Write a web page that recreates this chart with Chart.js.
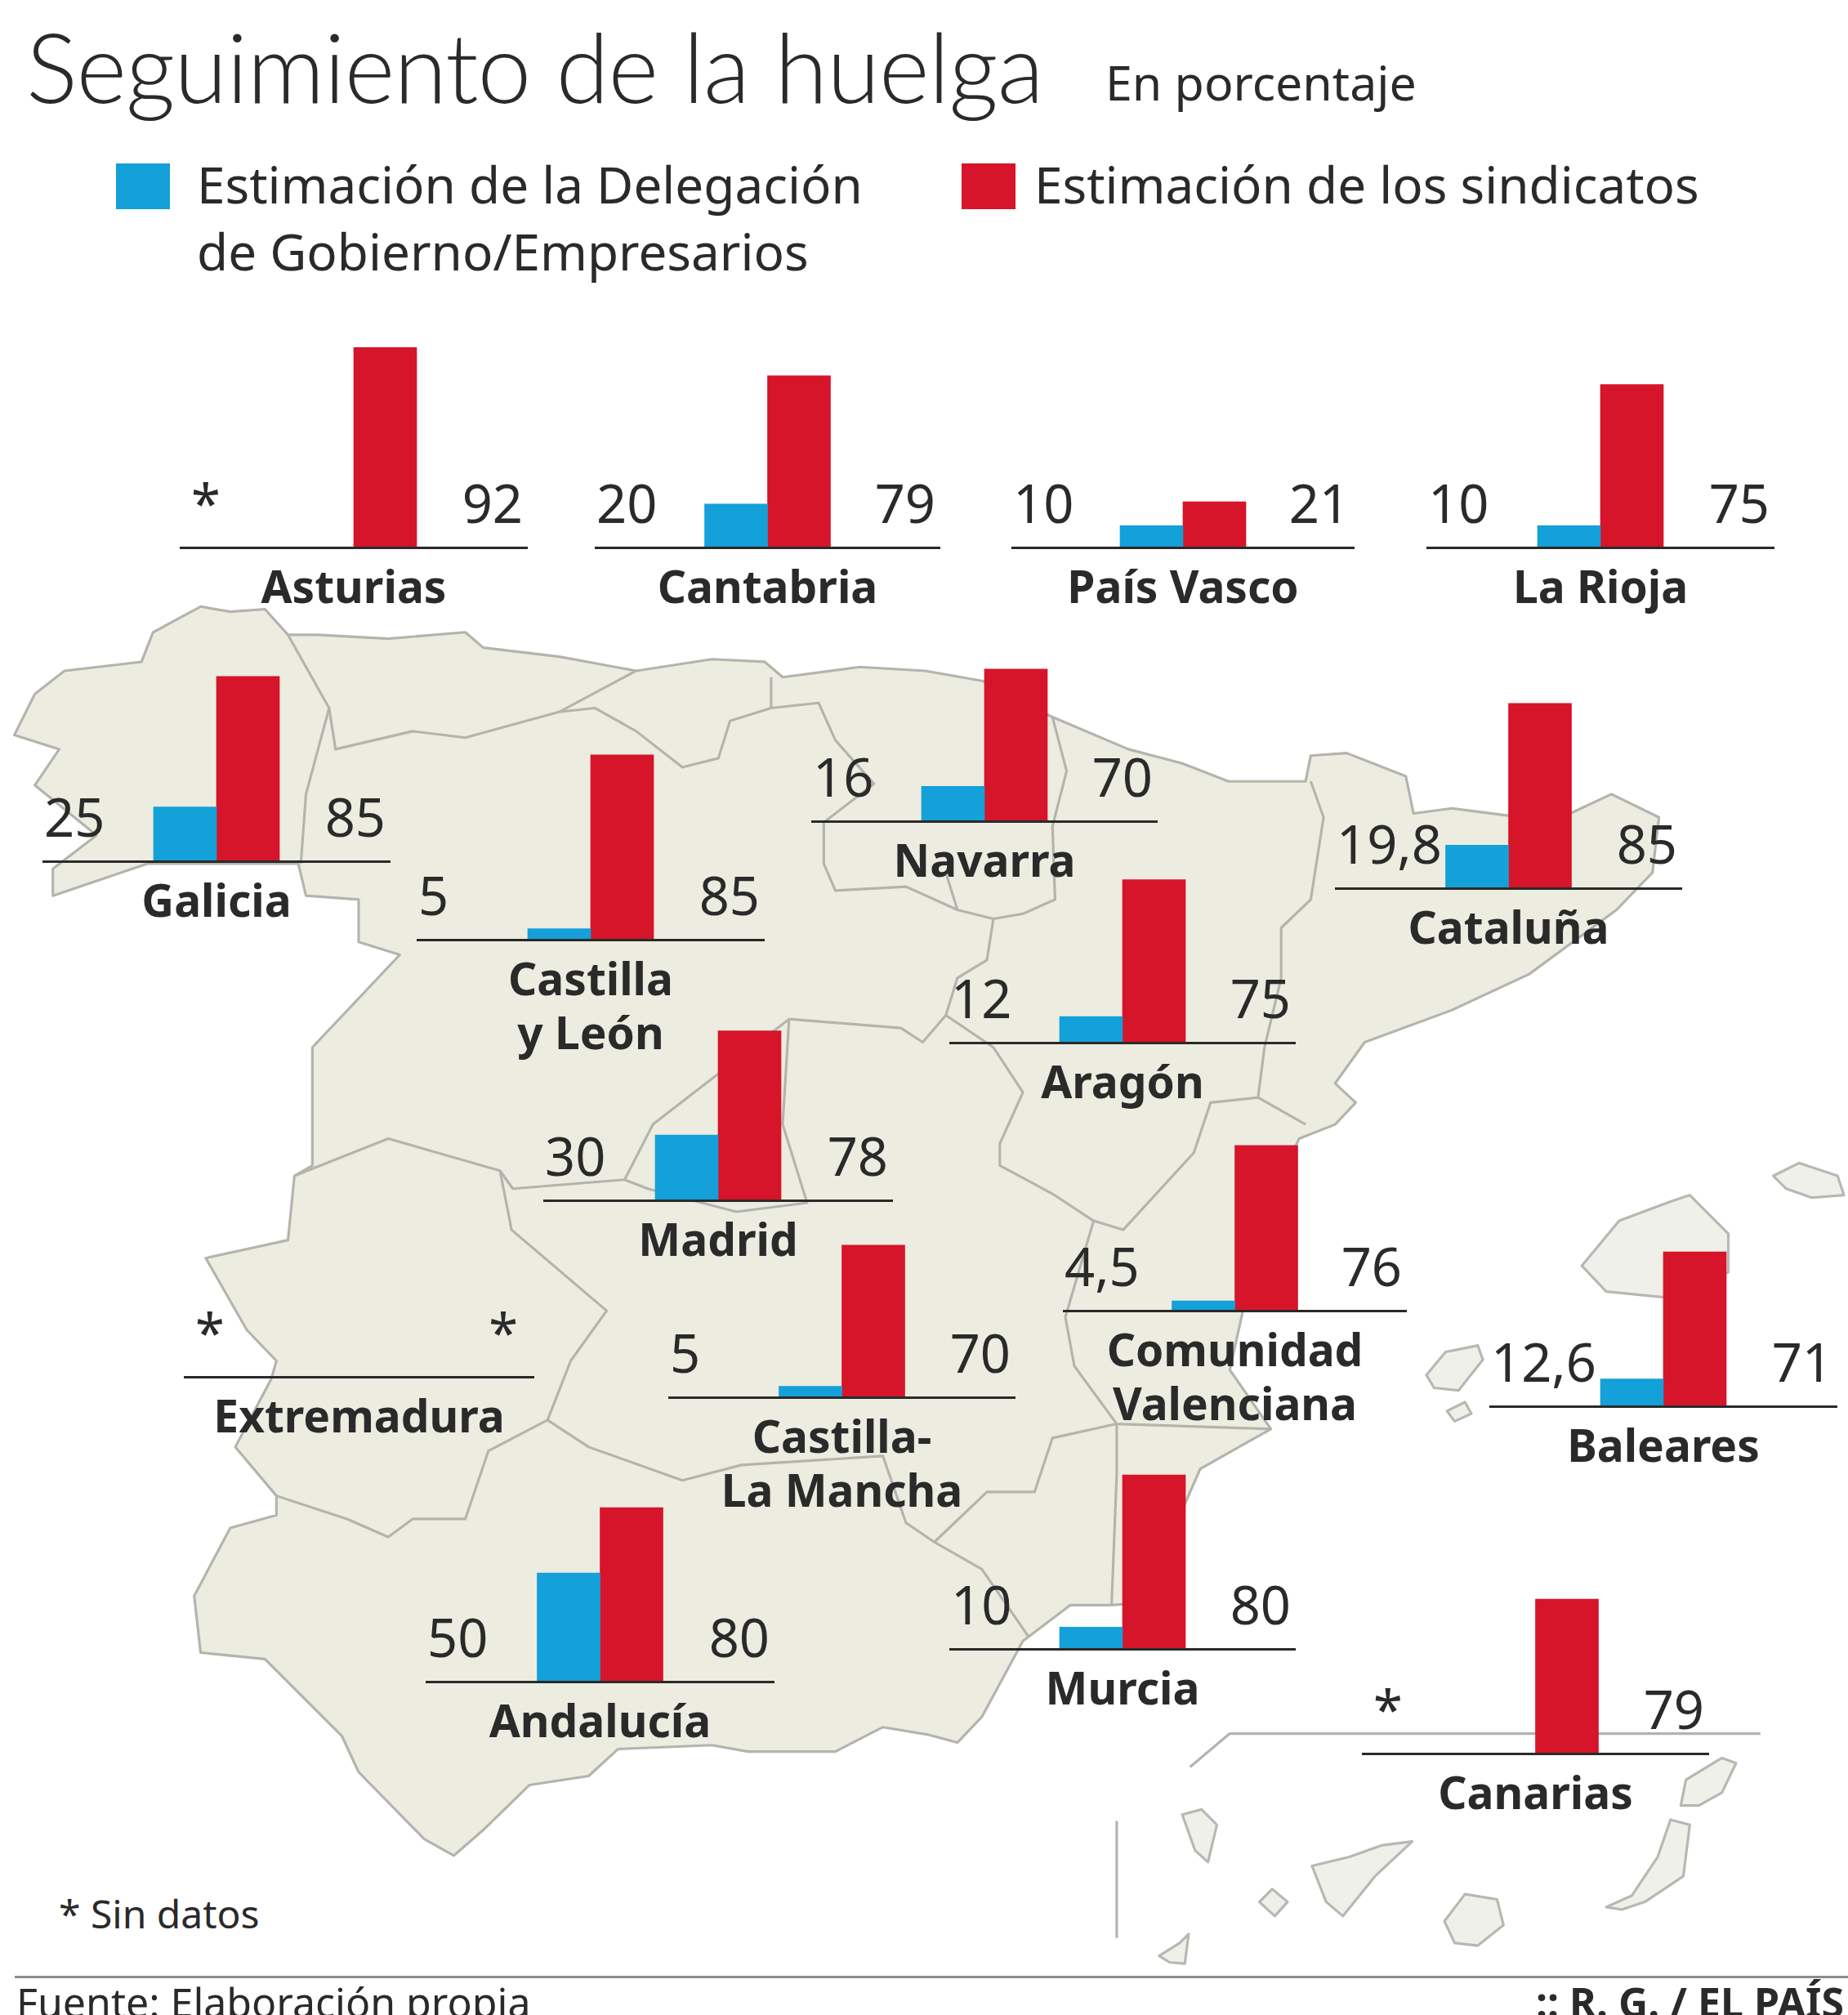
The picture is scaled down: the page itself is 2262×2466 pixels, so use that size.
<!DOCTYPE html>
<html lang="es">
<head>
<meta charset="utf-8">
<title>Seguimiento de la huelga</title>
<script src="https://cdn.jsdelivr.net/npm/chart.js@4"></script>
<style>
  html, body { margin: 0; background: #fff; }
  #page { position: relative; width: 2262px; height: 2466px; overflow: hidden; color: #2a2a2a; font-family: "Noto Sans", sans-serif; }
  #page div { position: absolute; white-space: nowrap; }
  #map { position: absolute; left: 0; top: 0; }
  #page canvas { position: absolute; }
  .land { fill: #ecece0; stroke: #b4b4ae; stroke-width: 2; stroke-linejoin: round; }
  .border { fill: none; stroke: #b4b4ae; stroke-width: 2; stroke-linejoin: round; }
  .isle { fill: #f0f0ea; stroke: #b8b8b2; stroke-width: 2; stroke-linejoin: round; }
  .legend { font-size: 62px; line-height: 82px; }
  .swatch { width: 66px; height: 56px; }
</style>
</head>
<body>
<div id="page">
  <svg id="map" width="2262" height="2466" viewBox="0 0 1438 1568">
    <path class="land" d="M11,572 L27,540 L50,522 L110,515 L119,492 L156,472 L179,476 L206,474 L224,494 L247,494 L302,497 L362,492 L376,504 L435,511 L495,522 L554,513 L595,515 L609,527 L669,519 L720,522 L765,530 L819,558 L878,583 L920,594 L956,608 L1016,608 L1020,588 L1048,586 L1094,604 L1100,633 L1130,629 L1176,635 L1222,633 L1254,618 L1291,636 L1286,679 L1258,708 L1190,758 L1130,786 L1062,811 L1039,843 L1055,858 L1039,875 L1011,886 L990,930 L975,985 L957,1066 L989,1112 L934,1143 L920,1175 L918,1245 L865,1249 L833,1249 L796,1277 L764,1336 L745,1356 L723,1350 L687,1344 L650,1363 L582,1363 L554,1358 L481,1361 L458,1382 L412,1389 L376,1424 L353,1444 L330,1431 L279,1379 L266,1351 L206,1291 L156,1286 L151,1242 L179,1189 L215,1179 L215,1164 L183,1126 L211,1073 L215,1059 L192,1035 L160,979 L224,965 L229,915 L243,907 L243,815 L311,743 L279,733 L279,700 L238,697 L232,672 L115,672 L41,697 L41,676 L75,650 L27,611 L46,583 Z"/>
    <path class="border" d="M224,494 L256,551 L238,618 L234,672"/>
    <path class="border" d="M256,551 L261,583 L321,569 L362,574 L435,554 L495,522"/>
    <path class="border" d="M435,554 L463,551 L495,569 L531,597 L559,590 L568,561 L600,551 L600,527"/>
    <path class="border" d="M600,551 L637,547 L650,576 L680,610 L641,640 L641,672 L650,693 L705,690 L745,708 L773,715 L796,711 L821,700 L819,643 L830,600 L819,558"/>
    <path class="border" d="M736,679 L745,708"/>
    <path class="border" d="M773,715 L768,747 L745,761 L736,790 L773,815 L796,850 L778,890 L778,907 L819,929 L851,950 L829,1025 L836,1063 L869,1108 L989,1112"/>
    <path class="border" d="M1020,608 L1030,636 L1020,700 L997,722 L997,761 L984,815 L979,854 L942,858 L929,897 L874,957 L851,950"/>
    <path class="border" d="M979,854 L1016,875"/>
    <path class="border" d="M736,790 L718,811 L701,800 L614,793 L508,875 L486,918 L504,925 L573,943 L628,936 L609,875 L614,793"/>
    <path class="border" d="M229,915 L302,886 L389,911 L399,925 L486,918"/>
    <path class="border" d="M389,911 L398,957 L472,1020 L444,1059 L426,1105 L458,1126 L531,1152 L577,1140 L687,1133 L705,1185 L727,1200 L764,1221 L800,1273"/>
    <path class="border" d="M426,1105 L380,1129 L362,1182 L321,1182 L302,1196 L270,1182 L215,1164"/>
    <path class="border" d="M869,1108 L819,1119 L805,1161 L768,1161 L727,1200"/>
    <path class="border" d="M869,1108 L869,1147 L865,1249"/>
    <path class="isle" d="M1231,985 L1260,950 L1300,935 L1315,930 L1345,960 L1345,990 L1300,1010 L1250,1005 Z"/>
    <path class="isle" d="M1380,915 L1400,905 L1430,915 L1435,930 L1410,932 L1390,925 Z"/>
    <path class="isle" d="M1110,1070 L1125,1052 L1150,1047 L1154,1058 L1135,1082 L1116,1080 Z"/>
    <path class="isle" d="M1126,1098 L1140,1091 L1145,1100 L1132,1106 Z"/>
    <path class="isle" d="M920,1412 L935,1408 L947,1420 L940,1449 L930,1440 Z"/>
    <path class="isle" d="M1021,1452 L1050,1445 L1075,1436 L1099,1433 L1070,1460 L1045,1491 L1032,1480 Z"/>
    <path class="isle" d="M980,1480 L990,1470 L1002,1480 L992,1491 Z"/>
    <path class="isle" d="M902,1522 L918,1512 L925,1505 L922,1528 L910,1527 Z"/>
    <path class="isle" d="M1124,1495 L1140,1474 L1165,1478 L1170,1498 L1150,1514 L1132,1512 Z"/>
    <path class="isle" d="M1250,1484 L1270,1475 L1290,1445 L1300,1416 L1315,1420 L1310,1460 L1280,1480 L1262,1486 Z"/>
    <path class="isle" d="M1308,1405 L1312,1385 L1340,1368 L1351,1372 L1340,1395 L1322,1405 Z"/>
    <path class="border" d="M926,1375 L957,1349 L1370,1349"/>
    <path class="border" d="M869,1417 L869,1508"/>
  </svg>

  <div style="left:32px;top:6px;font-size:118px;line-height:150px;font-family:Lato,sans-serif;font-weight:300;letter-spacing:-1px">Seguimiento de la huelga</div>
  <div style="left:1353px;top:62px;font-size:59px;line-height:76px">En porcentaje</div>

  <div class="swatch" style="left:142px;top:200px;background:#14a0d8"></div>
  <div class="legend" style="left:241px;top:184px">Estimación de la Delegación<br>de Gobierno/Empresarios</div>
  <div class="swatch" style="left:1177px;top:200px;background:#d6142a"></div>
  <div class="legend" style="left:1266px;top:184px">Estimación de los sindicatos</div>

  <div style="left:72px;top:2312px;font-size:48px;line-height:60px">* Sin datos</div>
  <div style="left:18px;top:2418px;width:2244px;height:3px;background:#8c8c8c"></div>
  <div style="left:20px;top:2420px;font-size:50px;line-height:60px">Fuente: Elaboración propia</div>
  <div style="left:1880px;top:2420px;font-size:50px;line-height:60px;font-weight:700">:: R. G. / EL PAÍS</div>
</div>

<script>
// values, null = sin datos
const regions = ['Asturias', 'Cantabria', 'País Vasco', 'La Rioja', 'Galicia', 'Castilla y León', 'Navarra', 'Cataluña', 'Aragón', 'Madrid', 'Extremadura', 'Castilla-La Mancha', 'Comunidad Valenciana', 'Baleares', 'Andalucía', 'Murcia', 'Canarias'];
const gobierno = [null, 20, 10, 10, 25, 5, 16, 19.8, 12, 30, null, 5, 4.5, 12.6, 50, 10, null];
const sindicatos = [92, 79, 21, 75, 85, 85, 70, 85, 75, 78, null, 70, 76, 71, 80, 80, 71];
const seriesNames = ['Estimación de la Delegación de Gobierno/Empresarios', 'Estimación de los sindicatos'];
// Canarias: the bar measures 71 but the number printed beside it reads 79
const printedRight = { Canarias: '79' };

// where each little chart sits on the page: baseline left, right, y
const slots = [
  [220, 646, 670], [728, 1151, 670], [1238, 1658, 670], [1746, 2172, 670],
  [52, 478, 1054], [510, 936, 1150], [993, 1417, 1005], [1634, 2059, 1087],
  [1162, 1586, 1276], [665, 1093, 1469], [225, 654, 1685], [818, 1243, 1710],
  [1301, 1722, 1604], [1823, 2249, 1721], [521, 948, 2058], [1162, 1586, 2018],
  [1667, 2092, 2146]
];
const nameLines = {
  'Castilla y León': ['Castilla', 'y León'],
  'Castilla-La Mancha': ['Castilla-', 'La Mancha'],
  'Comunidad Valenciana': ['Comunidad', 'Valenciana']
};

const blue = '#14a0d8';
const red = '#d6142a';
const ink = '#2a2a2a';
const plotHeight = 266;
const nameLineHeight = 66;

function fmt(v) {
  return v === null ? '*' : String(v).replace('.', ',');
}

// the numbers either side of the bars
const sideLabels = {
  id: 'sideLabels',
  afterDatasetsDraw(chart) {
    const { ctx, chartArea } = chart;
    const y = chartArea.bottom - 30;
    const left = chart.data.datasets[0].data[0];
    const right = chart.data.datasets[1].data[0];
    const rightText = printedRight[chart.data.labels[0]] || fmt(right);
    ctx.save();
    ctx.font = '65px "Noto Sans"';
    ctx.fillStyle = ink;
    ctx.textBaseline = 'alphabetic';
    ctx.textAlign = 'left';
    ctx.fillText(fmt(left), chartArea.left + (left === null ? 14 : 2), y);
    ctx.textAlign = 'right';
    ctx.fillText(rightText, chartArea.right - (right === null ? 20 : 6), y);
    ctx.restore();
  }
};

const page = document.getElementById('page');

regions.forEach((name, i) => {
  const [x1, x2, baseY] = slots[i];
  const lines = nameLines[name] || [name];
  const canvas = document.createElement('canvas');
  canvas.width = x2 - x1;
  canvas.height = plotHeight + lines.length * nameLineHeight + 31;
  canvas.style.left = x1 + 'px';
  page.appendChild(canvas);

  const chart = new Chart(canvas, {
    type: 'bar',
    data: {
      labels: [name],
      datasets: [
        { label: seriesNames[0], data: [gobierno[i]], backgroundColor: blue, barThickness: 77 },
        { label: seriesNames[1], data: [sindicatos[i]], backgroundColor: red, barThickness: 77 }
      ]
    },
    options: {
      responsive: false,
      animation: false,
      devicePixelRatio: 1,
      plugins: { legend: { display: false }, tooltip: { enabled: false } },
      scales: {
        y: { display: false, min: 0, max: 100 },
        x: {
          grid: { display: false },
          ticks: { display: false },
          border: { display: true, color: ink, width: 3, z: 1 },
          title: {
            display: true,
            text: lines,
            color: ink,
            font: { family: '"Noto Sans"', weight: 'bold', size: 55, lineHeight: nameLineHeight + 'px' },
            padding: { top: 11, bottom: 12 }
          }
        }
      }
    },
    plugins: [sideLabels]
  });
  // hang the chart so its x axis lands on the baseline
  canvas.style.top = (baseY - chart.chartArea.bottom) + 'px';
});
</script>
</body>
</html>
